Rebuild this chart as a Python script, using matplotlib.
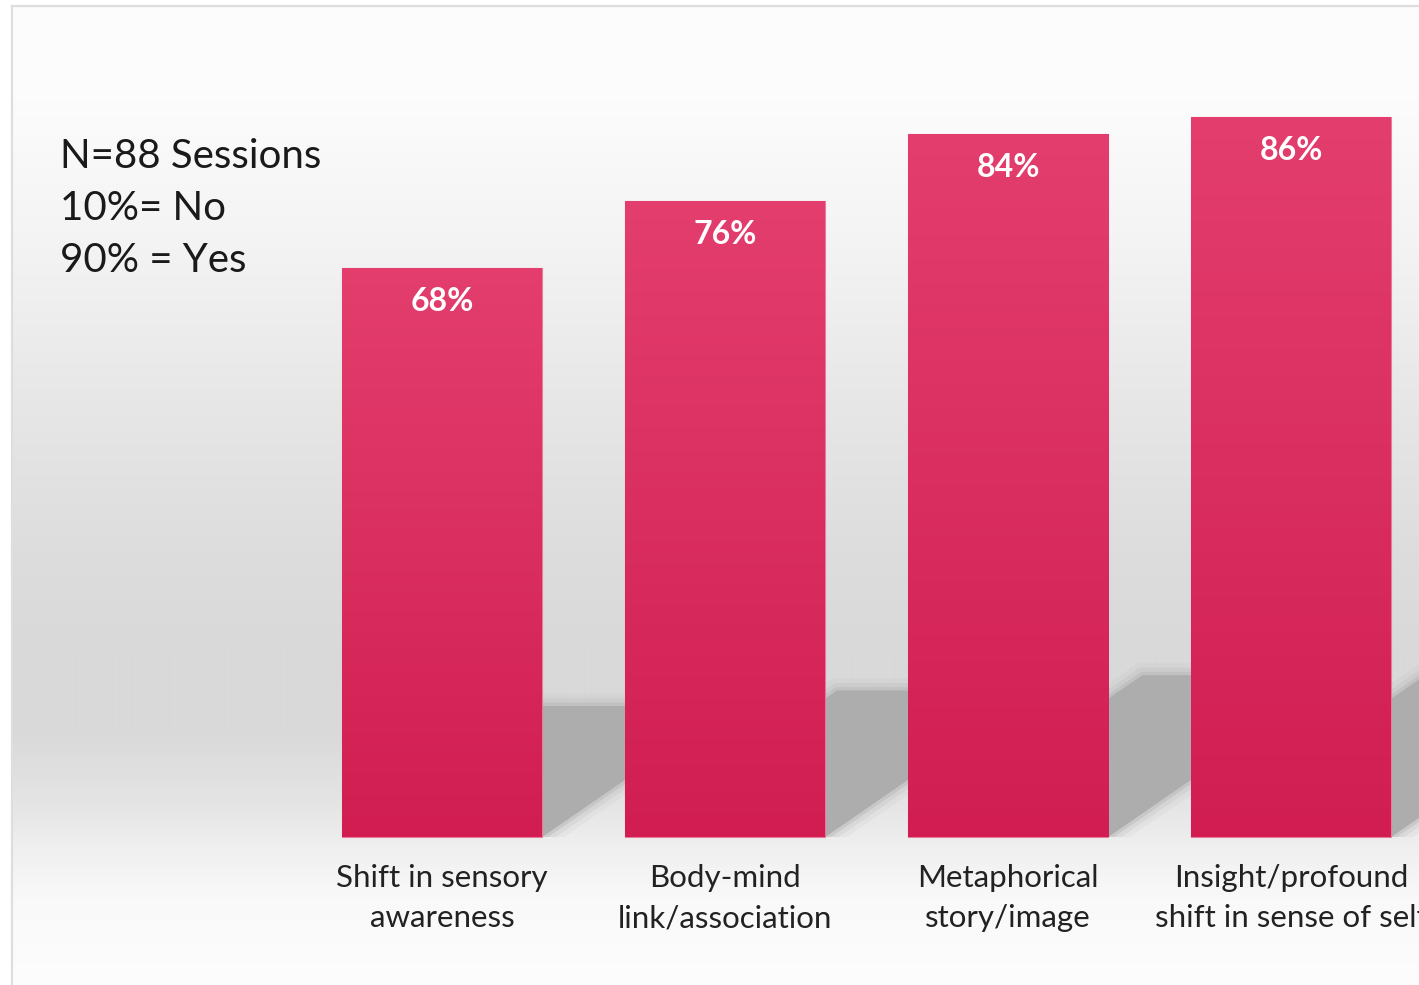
import numpy as np
import matplotlib
matplotlib.use("Agg")
import matplotlib.pyplot as plt
from matplotlib.patches import Polygon, Rectangle
from matplotlib import patheffects as pe
from matplotlib.colors import LinearSegmentedColormap

# ── data ────────────────────────────────────────────────────────────────
categories = [
    "Shift in sensory\nawareness",
    "Body-mind\nlink/association",
    "Metaphorical\nstory/image",
    "Insight/profound\nshift in sense of self",
]
values = [68, 76, 84, 86]
value_labels = ["68%", "76%", "84%", "86%"]
info_lines = ["N=88 Sessions", "10%= No", "90% = Yes"]

# ── layout (pixels of the 1419x985 canvas) ─────────────────────────────
W, H = 1419, 985
PX_X = 283.0          # px per category
PX_Y = 8.37           # px per percent
X0, Y0 = 442, 837     # pixel of category 0 / value 0
AX_L, AX_R, AX_T, AX_B = 12, 1600, 6, 985

FONT = ["Lato", "DejaVu Sans"]
plt.rcParams["font.family"] = FONT

fig = plt.figure(figsize=(W / 100, H / 100), dpi=100)
fig.patch.set_facecolor("white")
ax = fig.add_axes([AX_L / W, 1 - AX_B / H, (AX_R - AX_L) / W, (AX_B - AX_T) / H])

xlim = ((AX_L - X0) / PX_X, (AX_R - X0) / PX_X)
ylim = ((Y0 - AX_B) / PX_Y, (Y0 - AX_T) / PX_Y)
ax.set_xlim(*xlim)
ax.set_ylim(*ylim)
ax.set_xticks([])
ax.set_yticks([])
for side in ("right", "bottom"):
    ax.spines[side].set_visible(False)
for side in ("top", "left"):
    ax.spines[side].set_color("#dedede")
    ax.spines[side].set_linewidth(1.6)

# background: white -> grey -> white (vertical)
rows = np.arange(AX_T, AX_B)
stops_px = [0, 100, 250, 400, 550, 650, 730, 800, 850, 900, 985]
stops_g = [253, 252, 243, 231, 221, 217, 217, 228, 240, 249, 253]
grey = np.interp(rows, stops_px, stops_g) / 255.0
bg = np.repeat(grey[:, None], 4, axis=1)
ax.imshow(np.dstack([bg, bg, bg]), extent=(*xlim, ylim[0], ylim[1]),
          aspect="auto", origin="upper", zorder=0, interpolation="bilinear")

x = np.arange(len(values))
width = 200 / PX_X

# shadows cast up and to the right behind each bar
shadow_c = "#adadad"
for xi, v in zip(x, values):
    h = 0.23 * v
    off = h * PX_Y / 0.69 / PX_X
    xl, xr = xi - width / 2, xi + width / 2
    poly = Polygon([(xl, 0), (xr, 0), (xr + off, h), (xl + off, h)],
                   closed=True, facecolor=shadow_c, edgecolor="none", zorder=1)
    poly.set_path_effects([
        pe.Stroke(linewidth=18, foreground=shadow_c, alpha=0.10),
        pe.Stroke(linewidth=11, foreground=shadow_c, alpha=0.18),
        pe.Stroke(linewidth=5, foreground=shadow_c, alpha=0.35),
        pe.Normal(),
    ])
    ax.add_patch(poly)
    clip = Rectangle((xr - 0.002, 0), xlim[1] - xr, ylim[1], transform=ax.transData)
    poly.set_clip_path(clip)

# bars with vertical crimson gradient
bars = ax.bar(x, values, width=width, color="#d92a5e", edgecolor="#ea7b9c",
              linewidth=0.8, zorder=2)
cmap = LinearSegmentedColormap.from_list("bar", ["#d11d52", "#e33e6e"])
grad = np.linspace(0, 1, 256)[:, None]
for b, xi, v in zip(bars, x, values):
    im = ax.imshow(grad, cmap=cmap, origin="lower", aspect="auto",
                   extent=(xi - width / 2, xi + width / 2, 0, v), zorder=2.5)
    im.set_clip_path(b)

for xi, v, lab in zip(x, values, value_labels):
    ax.text(xi, v - 4.0, lab, ha="center", va="center", color="white",
            fontsize=23, fontweight="bold", zorder=4)

for xi, cat in zip(x, categories):
    ax.text(xi, -3.2, cat, ha="center", va="top", color="#222222",
            fontsize=22.5, linespacing=1.55, zorder=4)

for i, line in enumerate(info_lines):
    fig.text(60 / W, 1 - (168 + 52 * i) / H, line, ha="left", va="baseline",
             fontsize=29, color="#1a1a1a")

ax.set_xlim(*xlim)
ax.set_ylim(*ylim)
fig.savefig("out.png", dpi=100, facecolor="white")
